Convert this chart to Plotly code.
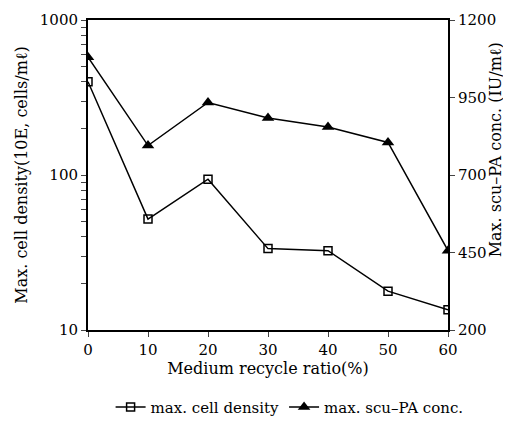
import plotly.graph_objects as go

ratio = [0, 10, 20, 30, 40, 50, 60]
cell_density = [400, 52, 94, 33.5, 32.5, 17.8, 13.5]
scupa_conc = [1080, 795, 934, 884, 855, 805, 456]

x_ticks = [0, 10, 20, 30, 40, 50, 60]
left_ticks = [10, 20, 30, 40, 50, 60, 70, 80, 90, 100,
              200, 300, 400, 500, 600, 700, 800, 900, 1000]
left_labels = ["10", "", "", "", "", "", "", "", "", "100",
               "", "", "", "", "", "", "", "", "1000"]
right_ticks = [200, 450, 700, 950, 1200]

FONT = "DejaVu Serif"

fig = go.Figure()
fig.add_trace(go.Scatter(
    x=ratio, y=cell_density, name="max. cell density", mode="lines+markers",
    line=dict(color="black", width=1.5),
    marker=dict(symbol="square-open", size=8, color="black", line=dict(width=1.5)),
    yaxis="y"))
fig.add_trace(go.Scatter(
    x=ratio, y=scupa_conc, name="max. scu\u2013PA conc.", mode="lines+markers",
    line=dict(color="black", width=1.5),
    marker=dict(symbol="triangle-up", size=11, color="black"),
    yaxis="y2"))

fig.update_layout(
    width=511, height=428,
    margin=dict(l=80, r=71, t=12, b=99),
    paper_bgcolor="white", plot_bgcolor="white",
    font=dict(family=FONT, color="black", size=14),
    showlegend=True,
    legend=dict(orientation="h", x=0.56, xanchor="center", y=-0.196, yanchor="top",
                font=dict(size=15), itemwidth=30, bgcolor="rgba(0,0,0,0)"),
    xaxis=dict(range=[0, 60], tickvals=x_ticks, ticks="outside", ticklen=5,
               showline=True, linecolor="black", linewidth=2, mirror=True,
               showgrid=False, zeroline=False, tickfont=dict(size=15), automargin=False,
               title=dict(text="Medium recycle ratio(%)", standoff=0, font=dict(size=16))),
    yaxis=dict(type="log", range=[1, 3], tickmode="array", tickvals=left_ticks,
               ticktext=left_labels,
               ticks="outside", ticklen=5, showline=True, linecolor="black", linewidth=2,
               showgrid=False, zeroline=False, tickfont=dict(size=15), automargin=False,
               title=dict(text="Max. cell density(10E, cells/m\u2113)", standoff=8, font=dict(size=16))),
    yaxis2=dict(range=[200, 1200], tickvals=right_ticks, overlaying="y", side="right",
                ticks="outside", ticklen=5, showline=True, linecolor="black", linewidth=2,
                showgrid=False, zeroline=False, tickfont=dict(size=15), automargin=False),
    annotations=[dict(text="Max. scu\u2013PA conc. (IU/m\u2113)", xref="paper", yref="paper",
                      x=1.131, y=0.58, xanchor="center", yanchor="middle", textangle=-90,
                      showarrow=False, font=dict(size=16))],
)

fig.write_html("out.html")
